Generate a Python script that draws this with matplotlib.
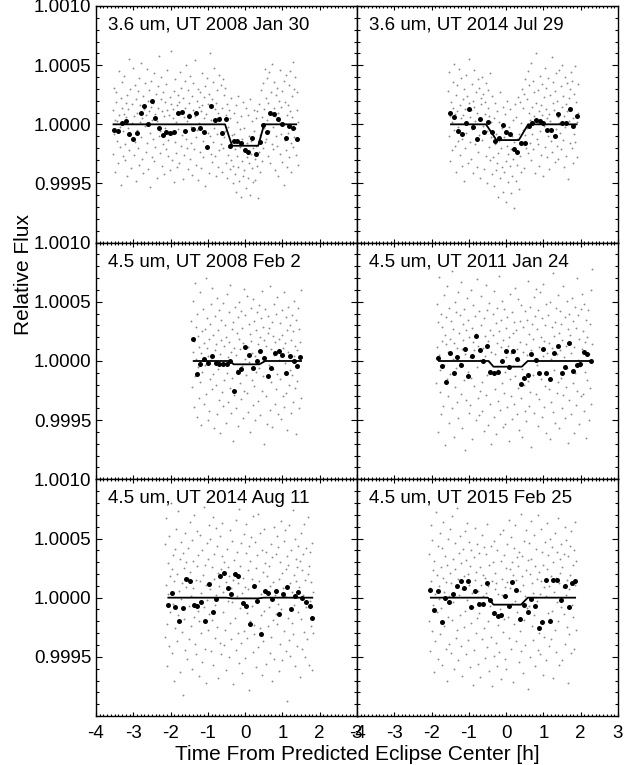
import numpy as np
import matplotlib
matplotlib.use("Agg")
import matplotlib.pyplot as plt
from matplotlib.ticker import MultipleLocator, FormatStrFormatter

plt.rcParams['font.family'] = ['Liberation Sans', 'DejaVu Sans']
plt.rcParams['axes.unicode_minus'] = False

# panel titles, row by row
titles = ["3.6 um, UT 2008 Jan 30", "3.6 um, UT 2014 Jul 29",
          "4.5 um, UT 2008 Feb 2", "4.5 um, UT 2011 Jan 24",
          "4.5 um, UT 2014 Aug 11", "4.5 um, UT 2015 Feb 25"]

# binned points: time [h] and flux offset [ppm]
bin_t1 = [-3.51, -3.40, -3.30, -3.20, -3.11, -3.00, -2.91, -2.80, -2.70, -2.61,
          -2.51, -2.41, -2.30, -2.20, -2.11, -2.01, -1.91, -1.81, -1.70, -1.61,
          -1.51, -1.41, -1.31, -1.21, -1.10, -1.01, -0.91, -0.81, -0.71, -0.61,
          -0.51, -0.41, -0.31, -0.21, -0.11, -0.01, 0.09, 0.19, 0.29, 0.39,
          0.49, 0.58, 0.68, 0.78, 0.89, 0.99, 1.09, 1.18, 1.28, 1.38]
bin_f1 = [-48, -56, 8, 31, -85, -124, -73, 93, 155, 0,
          200, 56, -31, -88, -68, -71, -68, 93, 107, -54,
          71, -37, 96, -28, -65, -189, 155, 37, 48, -71,
          45, -181, -144, -141, -155, -218, -237, -113, -249, -147,
          -6, -68, 93, 88, 42, 0, -116, -14, -28, -127]

bin_t2 = [-1.51, -1.40, -1.29, -1.19, -1.09, -1.00, -0.89, -0.79, -0.69, -0.60,
          -0.50, -0.39, -0.29, -0.19, -0.09, 0.00, 0.10, 0.20, 0.30, 0.40,
          0.50, 0.60, 0.70, 0.80, 0.90, 1.00, 1.09, 1.19, 1.30, 1.40,
          1.50, 1.60, 1.70, 1.80, 1.89]
bin_f2 = [99, 62, -59, -79, 8, 133, -25, -127, 45, -68,
          17, -68, -144, -113, -6, -65, -79, -206, -232, -158,
          -158, -11, 14, 40, 31, 14, -45, -45, -96, 85,
          11, 14, 127, -11, 73]

bin_t3 = [-1.39, -1.29, -1.20, -1.10, -1.00, -0.90, -0.79, -0.69, -0.60, -0.50,
          -0.40, -0.30, -0.19, -0.10, 0.00, 0.10, 0.20, 0.31, 0.41, 0.50,
          0.60, 0.70, 0.80, 0.90, 1.00, 1.10, 1.20, 1.30, 1.40, 1.48]
bin_f3 = [189, -107, -23, 17, -17, 42, -14, -23, -23, -23,
          -3, -254, -90, -68, 116, 54, -62, -3, 87, 25,
          -130, -59, 71, 85, 48, -99, 39, 0, -45, 34]

bin_t4 = [-1.82, -1.71, -1.61, -1.51, -1.41, -1.31, -1.21, -1.10, -1.01, -0.91,
          -0.81, -0.71, -0.61, -0.51, -0.42, -0.32, -0.21, -0.11, -0.01, 0.08,
          0.18, 0.29, 0.39, 0.49, 0.58, 0.68, 0.79, 0.89, 0.99, 1.08,
          1.18, 1.28, 1.39, 1.49, 1.59, 1.68, 1.79, 1.89, 1.99, 2.09,
          2.18, 2.27]
bin_f4 = [28, -39, -175, 68, -104, 31, -37, 104, -124, 39,
          212, 93, -3, 127, -96, -99, -90, -3, 85, -48,
          87, 20, -192, -141, -118, 62, 8, -102, 104, -104,
          -149, 65, 127, -99, -48, 152, -85, -37, -25, 76,
          56, 0]

bin_t5 = [-2.08, -1.97, -1.87, -1.78, -1.68, -1.58, -1.47, -1.37, -1.28, -1.18,
          -1.08, -0.97, -0.87, -0.77, -0.68, -0.57, -0.47, -0.37, -0.27, -0.18,
          -0.07, 0.03, 0.13, 0.23, 0.33, 0.42, 0.52, 0.62, 0.73, 0.83,
          0.92, 1.02, 1.12, 1.23, 1.33, 1.43, 1.52, 1.62, 1.73, 1.80]
bin_f5 = [-59, 42, -82, -195, -90, 155, 141, -65, -68, -34,
          -197, 116, -124, -11, 180, 209, 85, 28, 200, 186,
          -45, -73, -220, 99, -25, -307, 56, 37, -14, 59,
          -138, 34, 90, -99, 14, 45, -6, -39, -71, -169]

bin_t6 = [-2.03, -1.93, -1.83, -1.73, -1.63, -1.52, -1.43, -1.33, -1.22, -1.12,
          -1.02, -0.93, -0.83, -0.73, -0.62, -0.52, -0.43, -0.33, -0.23, -0.13,
          -0.03, 0.08, 0.17, 0.27, 0.37, 0.47, 0.58, 0.67, 0.78, 0.87,
          0.97, 1.07, 1.17, 1.27, 1.37, 1.47, 1.58, 1.68, 1.77, 1.86]
bin_f6 = [62, -102, 56, -206, -3, -39, 28, 99, 138, 85,
          144, -82, 54, -51, -56, 124, -17, -133, -152, -147,
          11, -71, 135, 65, -183, -62, -124, -11, -73, -259,
          -203, 152, -197, 147, 147, -20, 102, -79, 127, 138]

# eclipse model: breakpoints in time [h] and flux offset [ppm]
model_t1 = [-3.53, -0.54, -0.35, 0.35, 0.51, 1.37]
model_f1 = [0, 0, -181, -181, 0, 0]
model_t2 = [-1.48, -0.54, -0.26, 0.34, 0.59, 1.89]
model_f2 = [0, 0, -133, -133, 0, 0]
model_t3 = [-1.38, -0.40, -0.31, 0.38, 0.54, 1.50]
model_f3 = [0, 0, -28, -28, 0, 0]
model_t4 = [-1.80, -0.47, -0.34, 0.42, 0.58, 2.30]
model_f4 = [0, 0, -48, -48, 0, 0]
model_t5 = [-2.06, -0.50, -0.35, 0.35, 0.50, 1.80]
model_f5 = [0, 0, -6, -6, 0, 0]
model_t6 = [-2.02, -0.49, -0.34, 0.40, 0.58, 1.85]
model_f6 = [0, 0, -59, -59, 0, 0]

# unbinned data: time span [h] and flux offsets [units of 1e-5]
raw_span1 = [-3.55, 1.42]
raw_f1 = [12, -25, 31, -8, 4, -40, 19, 27, -14, 3, -33, 45, 8, -19, -2, 22, -51, 14, 36, -6, -27,
          9, 41, -17, -30, 6, 18, -44, 25, -3, 13, 55, -22, -9, 30, -37, 1, 17, -12, 48, -26, 7,
          -15, 33, 21, -48, 10, -5, 28, -20, 39, -34, 2, 16, -11, 52, -29, 5, 24, -41, 13, -1, 35,
          -23, 8, 47, -16, -38, 20, 11, 29, -7, -53, 15, 37, -28, 4, 18, -12, -31, 43, 9, -19, 26,
          3, -45, 32, 14, -10, 58, -24, -6, 21, 40, -35, 11, -17, 27, 7, -42, 19, -3, 34, -21, 12,
          46, -13, -27, 8, 23, -39, 17, 62, -8, -30, 13, 5, -49, 28, -15, 38, 2, -24, 16, -36, 25,
          -4, 19, -33, 44, 10, -18, 31, -9, -46, 22, 6, -26, 37, 14, -12, 50, -20, 3, 29, -38, 9,
          18, -29, 41, -2, -16, 24, -43, 12, 35, -21, 7, 54, -11, -34, 20, -5, 30, -47, 15, 1, -23,
          27, 11, -37, 16, 43, -14, -28, 5, 23, -52, 32, 9, -19, 39, -7, 17, -41, 26, -10, 60, -25,
          4, -32, 21, 36, -15, -3, 48, -27, 13, -44, 18, 29, -8, -36, 10, 42, -22, 6, -17, 33, -40,
          14, -20, 38, -11, 25, -6, 31, -33, 8, -45, 17, -2, -26, 12, -19, 5, -38, 22, -30, -9, -50,
          -35, -8, 10, -42, -21, 16, -57, -27, 2, -36, 24, -15, -48, -4, -19, -61, 7, -31, -12, 19, -44,
          -3, -39, -22, 14, -54, -16, -28, 8, -45, -10, -33, 21, -60, -25, -14, -37, 3, -49, -20, -6, 12,
          -29, -47, 5, -18, -35, 11, -62, -23, 17, -9, -40, 29, -14, -31, 6, 35, -20, 13, -3, 47, -15,
          22, -12, 39, 4, -27, 18, -6, 44, -33, 9, 27, -17, 51, -2, -21, 14, 36, -39, 7, 25, -10,
          -18, 31, 10, -44, 20, 3, -25, 46, 15, -8, -32, 28, 1, -51, 37, -13, 19, 42, -22, 8, -36,
          16, -7, 33, -28, 45, 11, -16, -40, 24, 6, 53, -19, 30, -11, -3, 40, -26, 12, 27, -34, 2]

raw_span2 = [-1.55, 1.93]
raw_f2 = [28, -10, 44, 7, -31, 19, 2, -22, 36, 14, -5, 51, -18, 9, 25, -40, 11, 33, -14, -2, 47,
          -26, 16, 5, 39, -12, -35, 21, 8, -48, 30, 13, -20, 42, -7, 1, 24, -33, 18, 55, -15, 6,
          12, -29, 34, -4, 20, -41, 15, 46, -17, 3, 27, -36, 10, 38, -23, -9, 31, 4, -45, 22, 17,
          -13, 40, -1, 26, -38, 9, 19, -27, 35, -6, -50, 14, 29, -19, 7, 43, -30, -11, 2, -42, 24,
          -28, 5, -52, -17, 18, -39, -8, -33, 11, -24, -61, 2, -14, 27, -45, -20, -3, -36, 15, -57, -11,
          -40, -7, 9, -31, -66, -18, 20, -25, -49, -2, -35, 13, -58, -21, -10, -44, 4, -29, -71, -15, 17,
          -22, -48, 6, -34, -12, 23, -55, -8, -27, 19, -40, 1, -16, 30, -5, 14, -37, 26, -9, 38, -20,
          21, -3, 45, -24, 10, 33, -16, 4, 52, -30, 15, -8, 37, -21, 27, 7, -41, 18, 60, -12, 2,
          -17, 29, 11, -35, 41, -6, 16, -26, 34, 8, -44, 23, -1, 48, -19, 13, 31, -28, 5, 39, -10,
          9, -38, 25, 3, -14, 57, -23, 18, 36, -9, 12, -32, 28, -4, 43, -18, 20, 6, -29, 46, 1,
          -7, 32, -21, 15, 50, -13, 24, -36, 7, 40, -2, 17, -27, 35, 11, -46, 22, 3, 30, -16, 44,
          13, -20, 37, 5, -33, 26, -8, 49, -15, 19, 2, -28, 34, 10]

raw_span3 = [-1.44, 1.50]
raw_f3 = [34, -22, 51, 8, -39, 17, 66, -13, 2, 29, -47, 40, -5, 21, -31, 12, 58, -18, 7, -54, 25,
          -9, 44, 15, -36, 27, -3, 70, -28, 11, 36, -50, 4, 19, -42, 31, -15, 48, 1, -24, 62, -11,
          22, -57, 9, 38, -20, 14, -45, 53, -7, 26, -33, 43, 6, -61, 18, 35, -26, -2, 49, -38, 13,
          -16, 30, -52, 20, 57, -10, 3, -35, 41, 16, -23, 64, -44, 8, 27, -14, -68, 33, 11, -29, 46,
          5, -40, 24, -8, 37, -55, 19, 50, -19, 10, 42, -32, -4, 28, -48, 15, 61, -25, 2, 39, -12,
          -27, 55, 12, -43, 31, -1, 23, -60, 17, 45, -16, 7, -37, 52, -21, 34, 4, -50, 26, -9, 41,
          14, -34, 47, -6, 20, -46, 36, 9, -25, 59, -13, 29, -70, 18, 3, 44, -30, 13, -53, 24, 38,
          -3, 28, -41, 63, 10, -18, 33, -56, 21, -7, 48, 5, -36, 16, -24, 40, -11, 54, -45, 1, 19,
          32, -15, 6, -49, 43, 22, -30, 11, 58, -39, 15, -2, 37, -27, 26, -58, 8, 46, -20, 30, -8,
          -44, 18, 39, -12, 25, -35, 4, 51, -23, 13, -62, 35, 9, -17, 45, -5, 27, -40, 16, 60, -31]

raw_span4 = [-1.88, 2.31]
raw_f4 = [-19, 48, 12, -60, 33, 5, 71, -26, -8, 40, -45, 17, 29, -38, 56, -3, 22, -71, 14, 37, -15,
          63, -30, 8, 45, -52, 19, -11, 34, 76, -40, 2, 27, -64, 15, 50, -22, -6, 41, -35, 11, 58,
          -48, 24, -2, 39, -28, 67, 10, -57, 31, 18, -16, 44, -75, 6, 26, -33, 53, -9, 35, -44, 20,
          3, -37, 60, -14, 28, -66, 16, 47, -21, 9, 38, -50, 23, -5, 69, -31, 13, -46, 42, 1, -25,
          30, 55, -18, -42, 11, 36, -59, 21, 4, -29, 64, -12, 43, -54, 17, -1, 49, -36, 26, -70, 8,
          -10, 40, 22, -47, 59, -24, 6, 32, -62, 15, 45, -8, -34, 25, 72, -41, 12, 35, -19, 51, -56,
          18, -27, 44, -9, -53, 28, 3, -39, 37, 13, -68, 20, -15, 57, -30, 7, 41, -49, 24, -4, 33,
          -36, 62, -13, 26, -45, 10, 52, -23, 1, -58, 34, 16, -31, 47, -7, -64, 29, 8, -20, 42, -42,
          14, -51, 35, 5, 68, -17, -38, 23, 46, -26, 9, -73, 31, 19, -12, 54, -44, 2, 38, -28, 61,
          -3, 27, -55, 43, 12, -32, 58, -15, 20, -47, 36, 4, 65, -39, 17, -21, 30, -61, 48, 7, -11,
          39, -24, 15, -66, 50, 2, -35, 29, 11, 74, -43, 21, -8, 33, -52, 45, 6, -27, 56, -18, 24,
          -57, 9, 42, -14, 31, -40, 18, 63, -29, 3, -48, 37, 13, -22, 51, -6, -69, 27, 40, -33, 16,
          22, -45, 7, 53, -19, 34, -61, 12, 46, -10, 28, -37, 70, -25, 1, 39, -53, 19, -4, 44, -30,
          10, 57, -28, 25, -42, 48, -9, 16, -65, 35, 20, -16, 43, -50, 6, 31, -23, 60, -36, 14, 78]

raw_span5 = [-2.16, 1.83]
raw_f5 = [45, -33, 11, 67, -22, -58, 29, 3, -41, 52, 18, -12, 80, -47, 24, -5, 36, -70, 14, 41, -26,
          -9, 58, -37, 20, 73, -15, 6, -63, 33, -1, 47, -29, 12, -82, 38, 25, -18, 55, -44, 9, 30,
          -52, 17, 42, -7, -35, 64, 22, -24, 1, 49, -60, 31, 8, -16, 70, -39, 15, -48, 27, 56, -11,
          36, -20, -66, 14, 53, -30, 4, 40, -54, 19, 77, -8, -43, 28, 11, -72, 46, -2, 33, -27, 61,
          -14, 50, 7, -45, 26, -19, 68, -57, 16, 37, -6, -34, 59, 2, -25, 44, -68, 21, 10, -38, 52,
          24, -48, 35, 63, -12, 5, -40, 30, 83, -27, 13, -61, 41, -3, 26, -50, 18, 57, -21, 8, -35,
          48, -4, 15, -73, 32, 20, -17, 66, -44, 1, 39, -30, 12, 75, -55, 27, -9, -38, 46, 4, -64,
          17, 54, -28, 9, -51, 38, 62, -13, -34, 23, 7, -78, 44, -20, 31, 51, -7, 16, -46, 69, -23,
          -31, 11, 47, -59, 25, -3, 36, -42, 71, 14, -26, 55, -15, 3, -65, 40, 22, -37, 58, -11, 29,
          6, -56, 39, 18, -24, 81, -8, 27, -47, 10, 45, -33, -70, 34, 13, -19, 60, -52, 2, 37, -14,
          52, -22, -5, 43, -62, 16, 30, -39, 65, -10, 21, -53, 8, 48, -28, 1, 57, -45, 24, -87, 35,
          -17, 28, 61, -36, 12, -49, 40, 5, -21, 74, -31, 19, -6, 50, -58, 33, 14, -41, 26, -12, 44,
          9, -67, 31, 55, -18, 23, -43, 37, 2, -29, 62, -50, 15, 42, -8, -35, 68, 20, -57, 27, -3,
          39, -24, 13, -61, 46, 5, -30]

raw_span6 = [-2.08, 1.88]
raw_f6 = [-20, 37, 8, -45, 61, 14, -28, 49, -6, 23, -63, 31, 3, -37, 72, -12, 19, 44, -52, 10, -1,
          55, -31, 26, -9, 42, -57, 17, 64, -24, 5, 35, -43, 13, -70, 28, 50, -16, 1, -39, 58, 21,
          -47, 12, 69, -19, 33, -4, -60, 24, 46, -34, 9, 76, -27, 16, -53, 38, 2, -15, 52, -41, 29,
          7, -66, 41, 18, -25, 56, -11, 32, -48, 63, -2, 20, -36, 47, 11, -59, 27, -21, 40, 4, -74,
          -8, 34, -44, 15, 59, -30, 22, -17, 45, 6, -56, 38, -13, 26, -67, 11, 53, -35, 19, 1, 43,
          -26, 17, -51, 37, 4, -42, 62, -20, 10, -62, 28, -7, 44, -33, 14, -75, 30, -14, 48, -49, 7,
          21, -38, 12, -58, 40, -23, 3, -46, 54, -10, 31, -69, 16, 2, -29, 57, -18, 36, -52, 9, 25,
          -60, 45, 13, -16, 66, -34, 24, 8, -43, 51, -5, 30, -71, 19, 42, -22, -3, 61, -37, 15, 34,
          -12, 27, -54, 39, 6, -28, 71, -45, 18, 35, -64, 11, 48, -19, 1, -40, 57, 23, -9, -77, 32,
          46, -7, 20, -50, 33, 65, -24, 12, -36, 4, 53, -15, 27, -58, 41, -3, 16, 70, -44, 22, -30,
          3, -48, 58, 14, -21, 39, -65, 28, 9, -33, 47, 1, -53, 24, 63, -13, 36, -41, 10, 50, -18,
          -35, 18, 43, -11, -68, 30, 5, 55, -27, 17, -46, 39, -4, 67, -20, 12, -57, 33, 21, -8, 45,
          26, -53, 9, 37, -14, 60, -39, 2, 49, -25, 15, -72, 35, 7, -31, 44, 19, -47, 56, -6, 28,
          -16, 40, -43, 11, 64, -27, 31]

bins = [(bin_t1, bin_f1), (bin_t2, bin_f2), (bin_t3, bin_f3),
        (bin_t4, bin_f4), (bin_t5, bin_f5), (bin_t6, bin_f6)]
models = [(model_t1, model_f1), (model_t2, model_f2), (model_t3, model_f3),
          (model_t4, model_f4), (model_t5, model_f5), (model_t6, model_f6)]
raws = [(raw_span1, raw_f1), (raw_span2, raw_f2), (raw_span3, raw_f3),
        (raw_span4, raw_f4), (raw_span5, raw_f5), (raw_span6, raw_f6)]

fig, axes = plt.subplots(3, 2, figsize=(6.41, 7.65), dpi=100, sharex=True, sharey=True)
fig.subplots_adjust(left=96/641, right=618/641, top=1-6/765, bottom=1-716/765,
                    wspace=0, hspace=0)

for i, ax in enumerate(axes.flat):
    span, rf = raws[i]
    rt = np.linspace(span[0], span[1], len(rf))
    ax.plot(rt, 1 + np.array(rf)*1e-5, 'o', ms=1.35, mew=0, color='0.55')
    mt, mf = models[i]
    ax.plot(mt, 1 + np.array(mf)*1e-6, '-', color='k', lw=1.3)
    bt, bf = bins[i]
    ax.plot(bt, 1 + np.array(bf)*1e-6, 'o', ms=3.6, mew=0, color='k')
    ax.text(0.045, 0.955, titles[i], transform=ax.transAxes, va='top', ha='left',
            fontsize=13.5)

    ax.set_xlim(-4, 3)
    ax.set_ylim(0.999, 1.001)
    ax.xaxis.set_major_locator(MultipleLocator(1))
    ax.xaxis.set_minor_locator(MultipleLocator(0.1))
    ax.set_yticks([0.9995, 1.0, 1.0005, 1.0010])
    ax.yaxis.set_minor_locator(MultipleLocator(0.0001))
    ax.yaxis.set_major_formatter(FormatStrFormatter('%.4f'))
    ax.tick_params(which='both', direction='in', top=True, right=True,
                   labelsize=13.5, width=0.8)
    ax.tick_params(axis='x', which='major', length=2.6, pad=6.5)
    ax.tick_params(axis='x', which='minor', length=1.4)
    ax.tick_params(axis='y', which='major', length=4.3, pad=3.5)
    ax.tick_params(axis='y', which='minor', length=2.2)
    for s in ax.spines.values():
        s.set_linewidth(1.0)

fig.text(24/641, 1-274/765, "Relative Flux", rotation=90, ha='center', va='center',
         fontsize=15)
fig.text(357/641, 1-754/765, "Time From Predicted Eclipse Center [h]", ha='center',
         va='center', fontsize=15)

fig.savefig("out.png", dpi=100)
